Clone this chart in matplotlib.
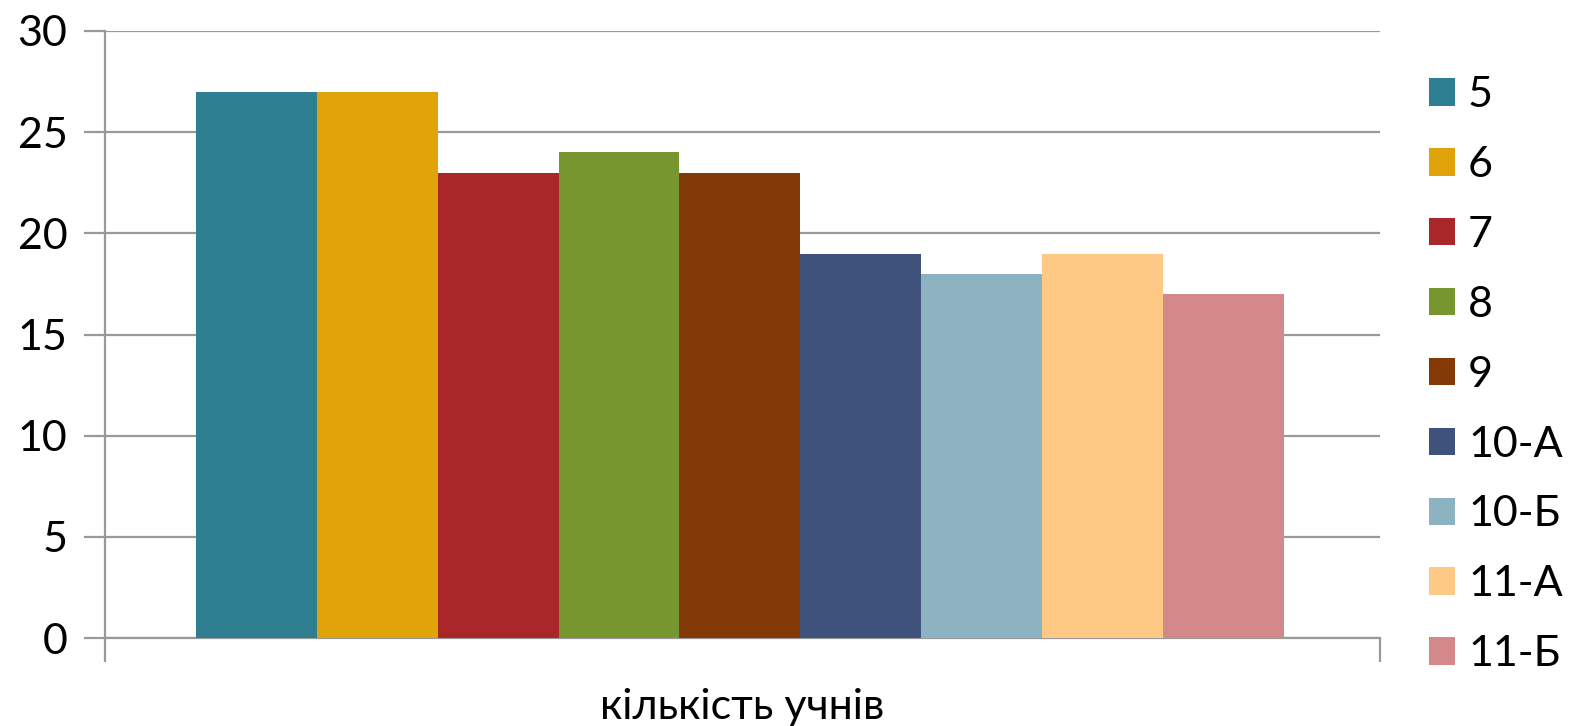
import matplotlib
matplotlib.use("Agg")
import matplotlib.pyplot as plt
import numpy as np

plt.rcParams['font.family'] = ['Lato', 'Noto Sans', 'DejaVu Sans']

# дані
category = 'кількість учнів'
classes = ['5', '6', '7', '8', '9', '10-А', '10-Б', '11-А', '11-Б']
pupils = [27, 27, 23, 24, 23, 19, 18, 19, 17]
colors = ['#2E7F92', '#E0A30A', '#AA2729', '#77962F', '#833A07',
          '#3E527C', '#8DB3C2', '#FDC985', '#D3888A']

grid_c = '#999999'

fig = plt.figure(figsize=(15.74, 7.26), dpi=100)
ax = fig.add_axes([105 / 1574, 88 / 726, 1275 / 1574, 607 / 726])

n = len(classes)
bw = 0.853 / n
x0 = -0.5 + 91 / 1275
for i in range(n):
    ax.bar(x0 + bw * (i + 0.5), pupils[i], width=bw, color=colors[i],
           label=classes[i], zorder=3)

ax.set_xlim(-0.5, 0.5)
ax.set_ylim(0, 30)
ax.set_yticks(range(0, 31, 5))
ax.yaxis.grid(True, color=grid_c, linewidth=1.6, zorder=0)

ax.set_xticks([-0.5, 0.5], ['', ''])
ax.set_xticks([0], [category], minor=True)
ax.tick_params(axis='x', which='major', length=17, width=1.6, color=grid_c)
ax.tick_params(axis='x', which='minor', length=0, pad=36, labelsize=31)
ax.tick_params(axis='y', length=15, width=1.6, color=grid_c, labelsize=31, pad=12)

for s in ['top', 'right']:
    ax.spines[s].set_visible(False)
for s in ['left', 'bottom']:
    ax.spines[s].set_color(grid_c)
    ax.spines[s].set_linewidth(1.6)

leg = ax.legend(loc='upper left', bbox_to_anchor=(1412 / 1574, 1 - 59 / 726),
                bbox_transform=fig.transFigure, frameon=False, fontsize=31,
                handlelength=0.6, handleheight=0.6, handletextpad=0.3,
                labelspacing=0.74, borderaxespad=0)

fig.savefig('out.png', dpi=100)
